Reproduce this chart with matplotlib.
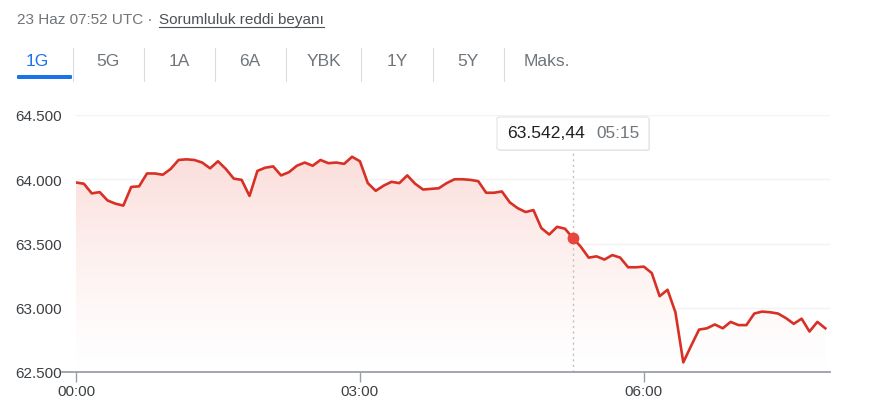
import matplotlib.pyplot as plt
import numpy as np
from matplotlib.patches import FancyBboxPatch
from matplotlib.lines import Line2D
from matplotlib.colors import LinearSegmentedColormap

plt.rcParams['font.family'] = ['Liberation Sans', 'DejaVu Sans']

W, H = 872, 406

# 5 dakikalık veriler, 00:00'dan itibaren
minutes = np.arange(96) * 5
values = [
    63975, 63965, 63890, 63900, 63835, 63810, 63795, 63940, 63945, 64045,
    64045, 64035, 64080, 64150, 64155, 64150, 64130, 64085, 64140, 64080,
    64005, 63995, 63870, 64065, 64090, 64100, 64030, 64055, 64105, 64130,
    64105, 64150, 64125, 64130, 64120, 64175, 64140, 63970, 63910, 63950,
    63980, 63970, 64030, 63965, 63920, 63925, 63930, 63970, 64000, 64000,
    63995, 63985, 63895, 63895, 63905, 63820, 63775, 63745, 63760, 63620,
    63570, 63630, 63615, 63542.44, 63475, 63390, 63400, 63375, 63410, 63390,
    63315, 63315, 63320, 63270, 63090, 63140, 62965, 62575, 62705, 62830,
    62840, 62870, 62840, 62890, 62865, 62865, 62955, 62970, 62965, 62955,
    62920, 62875, 62915, 62815, 62890, 62840,
]
y_ticks = [62500, 63000, 63500, 64000, 64500]
y_labels = ['62.500', '63.000', '63.500', '64.000', '64.500']
x_ticks = [0, 180, 360]
x_labels = ['00:00', '03:00', '06:00']
tabs = ['1G', '5G', '1A', '6A', 'YBK', '1Y', '5Y', 'Maks.']
tab_x = [37, 108, 179, 250, 324, 397, 468, 547]
sep_x = [73, 144, 215, 286, 361, 433, 504]
hover_min = 315
hover_val = 63542.44

RED = '#d93025'
GRAY = '#70757a'

def fx(px):
    return px / W

def fy(py):
    return 1 - py / H

fig = plt.figure(figsize=(W / 100, H / 100), dpi=100)

# üst bilgi satırı
t1 = fig.text(fx(17), fy(20), '23 Haz 07:52 UTC · ', fontsize=11, color=GRAY, va='center', ha='left')
fig.canvas.draw()
r = fig.canvas.get_renderer()
x2 = t1.get_window_extent(r).x1
t2 = fig.text(x2 / W + fx(2), fy(20), 'Sorumluluk reddi beyanı', fontsize=11, color='#4d5156',
              va='center', ha='left')
bb = t2.get_window_extent(r)
fig.add_artist(Line2D([bb.x0 / W, bb.x1 / W], [fy(28), fy(28)], color='#4d5156', lw=0.8))

# sekmeler
for i, (t, x) in enumerate(zip(tabs, tab_x)):
    fig.text(fx(x), fy(62), t, fontsize=12.5, color='#1a73e8' if i == 0 else GRAY, ha='center', va='center')
for x in sep_x:
    fig.add_artist(Line2D([fx(x), fx(x)], [fy(49), fy(82)], color='#dadce0', lw=0.8))
fig.add_artist(FancyBboxPatch((fx(17), fy(80)), fx(55), 4 / H, boxstyle='round,pad=0,rounding_size=0.002',
                              transform=fig.transFigure, color='#1a73e8', lw=0))

# grafik alanı
ax = fig.add_axes([fx(76), fy(373), fx(830) - fx(76), (373 - 116) / H])
ax.set_xlim(0, 478)
ax.set_ylim(62500, 64500)
for s in ax.spines.values():
    s.set_visible(False)
for v in y_ticks[1:]:
    ax.axhline(v, color='#f1f3f4', lw=1, zorder=0)

# degrade dolgu
poly = ax.fill_between(minutes, values, 62500, color='none', lw=0)
cmap = LinearSegmentedColormap.from_list('g', ['#ffffff', '#fbdedb'])
grad = np.linspace(0, 1, 256).reshape(-1, 1) ** 1.3
img = ax.imshow(grad, cmap=cmap, aspect='auto', origin='lower',
                extent=[0, 478, 62500, 64180], zorder=1)
img.set_clip_path(poly.get_paths()[0], transform=ax.transData)

ax.plot(minutes, values, color=RED, lw=1.9, zorder=3, solid_joinstyle='round')

ax.set_yticks(y_ticks)
ax.set_yticklabels(y_labels)
ax.set_xticks(x_ticks)
ax.set_xticklabels(x_labels)
ax.tick_params(axis='y', length=0, pad=10, labelsize=11, labelcolor='#3c4043')
ax.tick_params(axis='x', length=7, width=1, color='#9aa0a6', pad=2, labelsize=11, labelcolor='#3c4043')

# taban çizgisi
fig.add_artist(Line2D([fx(62), fx(830)], [fy(373), fy(373)], color='#9aa0a6', lw=1.3))

# imleç çizgisi ve nokta
ax.plot([hover_min, hover_min], [62500, 64500 - (151 - 116) * 2000 / 257], color='#bdc1c6',
        lw=1, linestyle=(0, (1.5, 2.5)), zorder=2)
ax.plot(hover_min, hover_val, 'o', color='#e8453c', markersize=7.5, zorder=4)

# ipucu kutusu
fig.add_artist(FancyBboxPatch((fx(498), fy(152)), fx(650) - fx(498), 33 / H,
                              boxstyle='round,pad=0,rounding_size=0.004', transform=fig.transFigure,
                              facecolor='#e8e8e8', edgecolor='none', zorder=5))
fig.add_artist(FancyBboxPatch((fx(497), fy(151)), fx(649) - fx(497), 33 / H,
                              boxstyle='round,pad=0,rounding_size=0.004', transform=fig.transFigure,
                              facecolor='white', edgecolor='#e3e3e3', lw=0.8, zorder=6))
fig.text(fx(507), fy(134), '63.542,44', fontsize=12.6, color='#202124', ha='left', va='center', zorder=7)
fig.text(fx(596), fy(134), '05:15', fontsize=12.4, color=GRAY, ha='left', va='center', zorder=7)

fig.savefig('out.png', dpi=100)
